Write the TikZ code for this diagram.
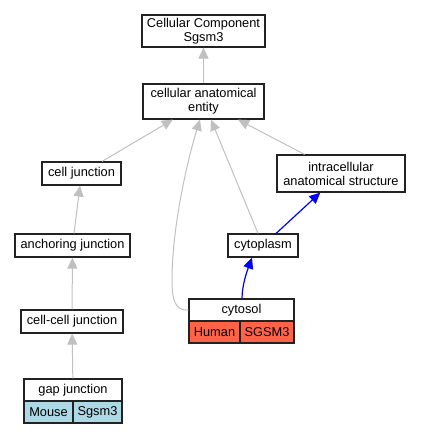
\documentclass[tikz,border=0pt]{standalone}
\usepackage{fontspec}
\setmainfont{Liberation Sans}
\usetikzlibrary{arrows.meta}
\definecolor{edgegray}{HTML}{C0C0C0}
\definecolor{tomatoc}{HTML}{FF6347}
\definecolor{lblue}{HTML}{ADD8E6}
\definecolor{boxline}{HTML}{222222}
\begin{document}
\begin{tikzpicture}[x=1pt,y=-1pt,
  box/.style={draw=boxline, line width=1.2pt, fill=white, inner sep=0pt, align=center,
    font=\fontsize{12.8}{14}\selectfont},
  edge/.style={draw=edgegray, line width=1pt, -{Triangle[length=11pt,width=10pt]}},
  bedge/.style={draw=blue, line width=1.2pt, -{Triangle[length=11pt,width=10pt]}}]
\useasboundingbox (0,0) rectangle (421,435);
% nodes
\node[box, minimum width=123pt, minimum height=32pt] (ccs) at (203.5,31) {Cellular Component\\Sgsm3};
\node[box, minimum width=121pt, minimum height=35pt] (cae) at (203.5,101.5) {cellular anatomical\\entity};
\node[box, minimum width=79pt, minimum height=23pt] (cj) at (81.5,173.5) {cell junction};
\node[box, minimum width=115pt, minimum height=23pt] (aj) at (72.5,245.5) {anchoring junction};
\node[box, minimum width=102pt, minimum height=23pt] (ccj) at (72,321.5) {cell-cell junction};
\node[box, minimum width=128pt, minimum height=37pt] (ias) at (341,173.5) {intracellular\\anatomical structure};
\node[box, minimum width=70pt, minimum height=23pt] (cp) at (263,245.5) {cytoplasm};
% gap junction table
\node[box, minimum width=98pt, minimum height=22pt] (gjh) at (73,390) {gap junction};
\node[box, fill=lblue, minimum width=49pt, minimum height=22pt] (gjm) at (48.5,412) {Mouse};
\node[box, fill=lblue, minimum width=49pt, minimum height=22pt] (gjs) at (97.5,412) {Sgsm3};
% cytosol table
\node[box, minimum width=105pt, minimum height=22pt] (cyh) at (241.5,310) {cytosol};
\node[box, fill=tomatoc, minimum width=51pt, minimum height=22pt] (cyhu) at (214.5,332) {Human};
\node[box, fill=tomatoc, minimum width=54pt, minimum height=22pt] (cys) at (267,332) {SGSM3};
% edges
\draw[edge] (cae) -- (ccs);
\draw[edge] (cj) -- (cae);
\draw[edge] (aj) -- (cj);
\draw[edge] (ccj) -- (aj);
\draw[edge] (gjh) -- (ccj);
\draw[edge] (cp) -- (cae);
\draw[edge] (ias) -- (cae);
\draw[edge] (cyh.west) .. controls (175,311) and (172,300) .. (172,280)
  .. controls (172,230) and (186,165) .. ([xshift=-3.5pt]cae.south);
\draw[bedge] (cp) -- (ias);
\draw[bedge] ([xshift=0.5pt]cyh.north) .. controls +(0,-14) and +(-4,11) .. ([xshift=-11pt]cp.south);
\end{tikzpicture}
\end{document}
